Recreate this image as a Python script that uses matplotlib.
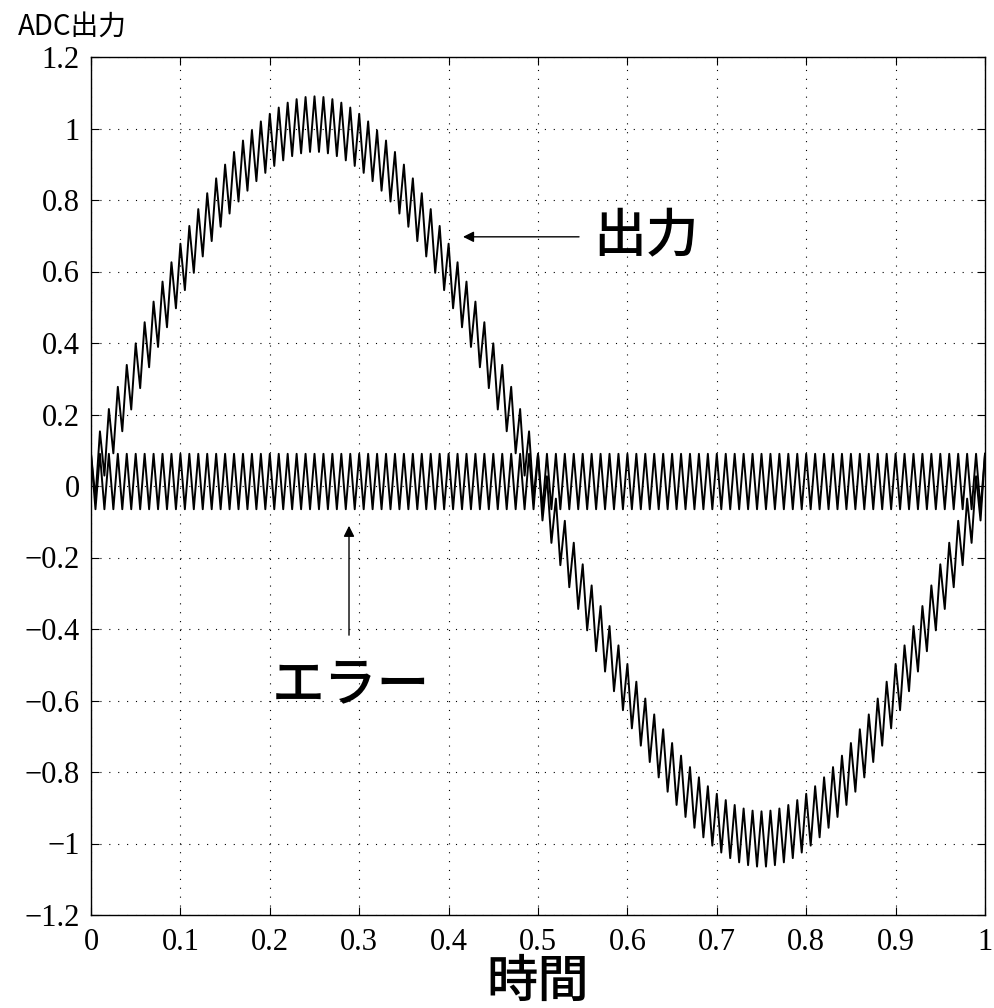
import numpy as np
import matplotlib
matplotlib.use("Agg")
import matplotlib.pyplot as plt

# ---- data ----
signal_amplitude = 1.0        # sine amplitude of the ADC input
signal_freq = 1.0             # cycles over the time span
n_samples = 201               # samples over 0..1 (error alternates each sample)
error_high = 0.09             # upper level of the error zigzag
error_low = -0.065            # lower level of the error zigzag
x_ticks = [0, 0.1, 0.2, 0.3, 0.4, 0.5, 0.6, 0.7, 0.8, 0.9, 1]
x_tick_labels = ["0", "0.1", "0.2", "0.3", "0.4", "0.5", "0.6", "0.7", "0.8", "0.9", "1"]
y_ticks = [-1.2, -1, -0.8, -0.6, -0.4, -0.2, 0, 0.2, 0.4, 0.6, 0.8, 1, 1.2]
y_tick_labels = ["\u22121.2", "\u22121", "\u22120.8", "\u22120.6", "\u22120.4", "\u22120.2",
                 "0", "0.2", "0.4", "0.6", "0.8", "1", "1.2"]

t = np.linspace(0, 1, n_samples)
error = np.where(np.arange(n_samples) % 2 == 0, error_high, error_low)
output = signal_amplitude * np.sin(2 * np.pi * signal_freq * t) + error

cjk = ["Noto Sans CJK JP", "DejaVu Sans"]
serif = ["Liberation Serif", "DejaVu Serif"]

fig = plt.figure(figsize=(9.94, 10.08), dpi=100)
ax = fig.add_axes([91 / 994, 1 - 915 / 1008, (985 - 91) / 994, (915 - 57) / 1008])

ax.plot(t, output, color="black", lw=1.4)
ax.plot(t, error, color="black", lw=1.4)

ax.set_xlim(0, 1)
ax.set_ylim(-1.2, 1.2)
ax.set_xticks(x_ticks)
ax.set_xticklabels(x_tick_labels, family=serif, fontsize=22)
ax.set_yticks(y_ticks)
ax.set_yticklabels(y_tick_labels, family=serif, fontsize=22)
ax.tick_params(axis="x", direction="in", length=6, width=0.8, top=True, pad=9)
ax.tick_params(axis="y", direction="in", length=6, width=0.8, right=True, pad=8)
ax.grid(True, color="black", linestyle=(0, (1, 7)), linewidth=0.8)
for s in ax.spines.values():
    s.set_linewidth(1.0)

# labels
fig.text(18 / 994, 1 - 27 / 1008, "ADC出力", family=cjk, fontsize=20,
         ha="left", va="center")
fig.text(538 / 994, 1 - 982 / 1008, "時間", family=cjk, fontsize=37,
         fontweight="medium", ha="center", va="center")

# annotations
ax.annotate("", xy=(0.413, 0.697), xytext=(0.549, 0.697),
            arrowprops=dict(arrowstyle="-|>", color="black", lw=1.0, mutation_scale=16))
ax.text(0.562, 0.697, "出力", family=cjk, fontsize=38, fontweight="medium",
        ha="left", va="center")
ax.annotate("", xy=(0.2886, -0.1035), xytext=(0.2886, -0.425),
            arrowprops=dict(arrowstyle="-|>", color="black", lw=1.0, mutation_scale=16))
ax.text(0.2905, -0.557, "エラー", family=cjk, fontsize=38, fontweight="medium",
        ha="center", va="center")

fig.savefig("out.png", dpi=100)
